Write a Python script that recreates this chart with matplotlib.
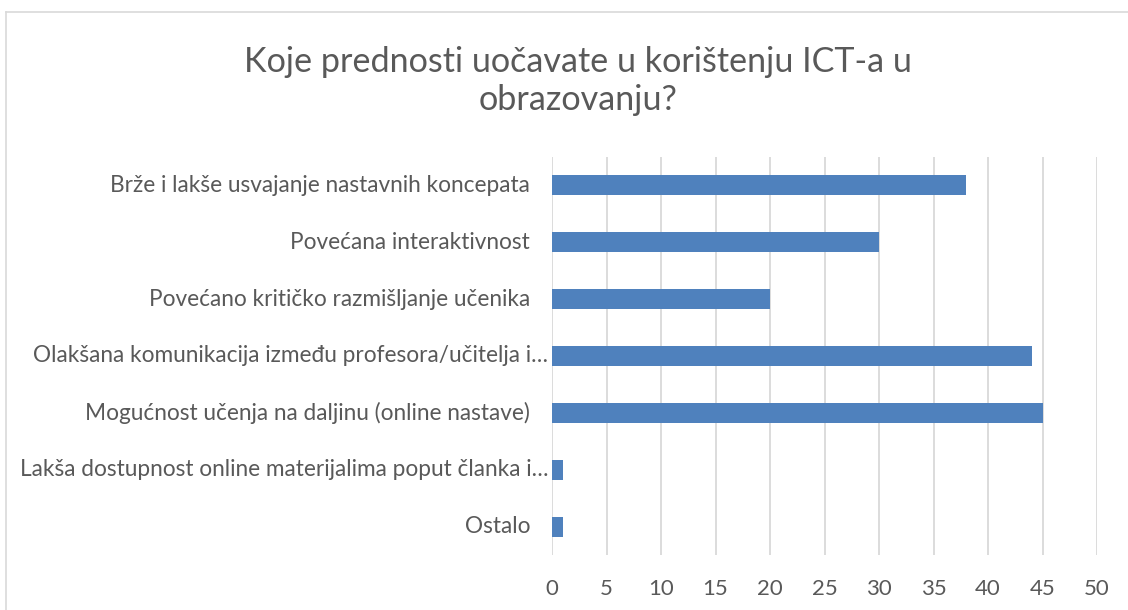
import matplotlib
matplotlib.use("Agg")
import matplotlib.pyplot as plt
from matplotlib.lines import Line2D

categories = [
    "Brže i lakše usvajanje nastavnih koncepata",
    "Povećana interaktivnost",
    "Povećano kritičko razmišljanje učenika",
    "Olakšana komunikacija između profesora/učitelja i…",
    "Mogućnost učenja na daljinu (online nastave)",
    "Lakša dostupnost online materijalima poput članka i…",
    "Ostalo",
]
truncated = [False, False, False, True, False, True, False]
values = [38, 30, 20, 44, 45, 1, 1]
xticks = [0, 5, 10, 15, 20, 25, 30, 35, 40, 45, 50]
title = "Koje prednosti uočavate u korištenju ICT-a u\nobrazovanju?"

TXT = "#595959"
plt.rcParams['font.family'] = ['Lato', 'DejaVu Sans']

W, H = 1128, 610
fig = plt.figure(figsize=(W / 100, H / 100), dpi=100)
fig.patch.set_facecolor("white")

# chart border (top and left visible)
fig.add_artist(Line2D([6 / W, 6 / W], [0, 1 - 12 / H], transform=fig.transFigure, color="#D9D9D9", lw=1.2))
fig.add_artist(Line2D([6 / W, 1], [1 - 12 / H, 1 - 12 / H], transform=fig.transFigure, color="#D9D9D9", lw=1.2))

ax = fig.add_axes([552 / W, 1 - 555 / H, 545 / W, 398 / H])
n = len(categories)
ypos = list(range(n))
ax.barh(ypos, values, height=0.35, color="#4F81BD", zorder=3)
ax.set_ylim(n - 0.5, -0.5)
ax.set_xlim(0, 50)
ax.set_xticks(xticks)
ax.set_xticklabels([str(t) for t in xticks], color=TXT, fontsize=16)
ax.tick_params(axis="x", length=0, pad=17)
ax.set_yticks([])
ax.grid(axis="x", color="#D9D9D9", lw=1.3, zorder=0)
for s in ax.spines.values():
    s.set_visible(False)

for y, lab, tr in zip(ypos, categories, truncated):
    off = -0.007 if tr else -0.04
    ax.text(off, y, lab, transform=ax.get_yaxis_transform(), ha="right", va="center",
            fontsize=16.3, color=TXT)

fig.text(578 / W, 1 - 81 / H, title, ha="center", va="center", fontsize=24.6,
         color=TXT, linespacing=1.2)

fig.savefig("out.png", dpi=100)
